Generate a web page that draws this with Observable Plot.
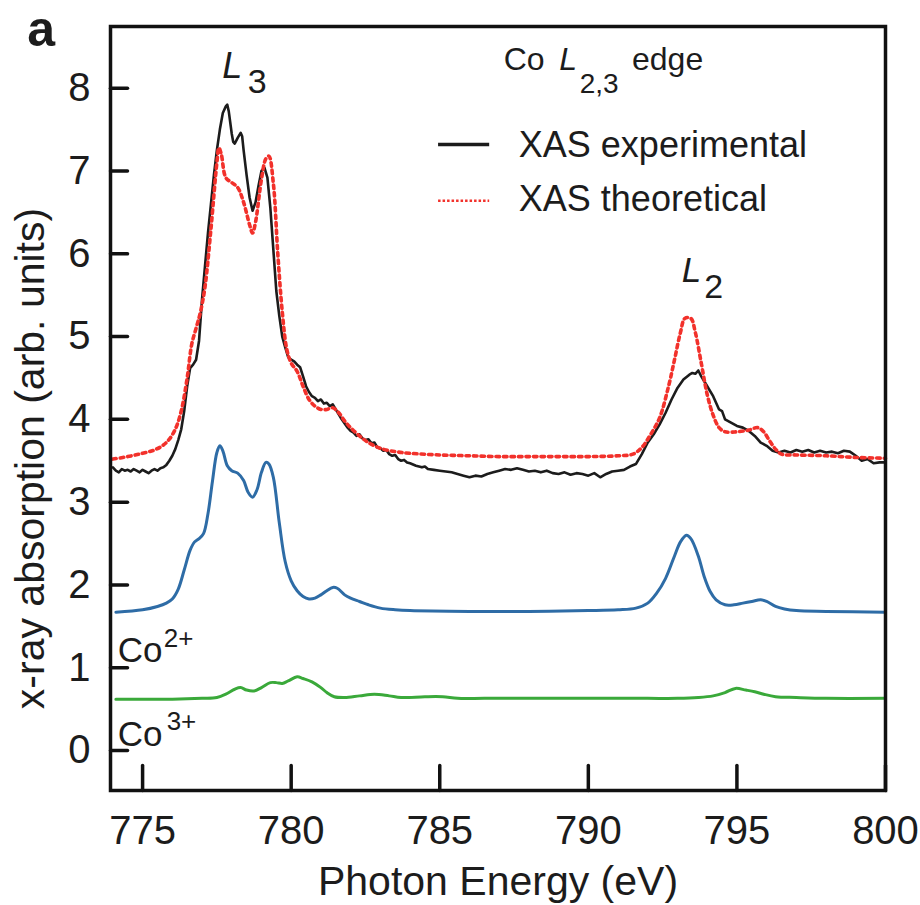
<!DOCTYPE html>
<html>
<head>
<meta charset="utf-8">
<script src="https://cdn.jsdelivr.net/npm/d3@7"></script>
<script src="https://cdn.jsdelivr.net/npm/@observablehq/plot@0.6"></script>
<style>
  html, body { margin: 0; padding: 0; background: #fff; }
</style>
</head>
<body>
<div id="chart"></div>
<script>
// ---- data ----
const xTicks = [775, 780, 785, 790, 795, 800];
const yTicks = [0, 1, 2, 3, 4, 5, 6, 7, 8];

const experimental = [
  [774.0,3.42],[774.1,3.38],[774.2,3.36],[774.3,3.40],[774.4,3.38],[774.5,3.39],[774.6,3.37],[774.7,3.40],
  [774.8,3.38],[774.9,3.36],[775.0,3.39],[775.1,3.37],[775.2,3.35],[775.3,3.38],[775.4,3.40],[775.5,3.38],
  [775.6,3.41],[775.7,3.42],[775.8,3.45],[775.9,3.50],[776.0,3.56],[776.1,3.64],[776.2,3.75],[776.3,3.88],
  [776.4,4.10],[776.5,4.40],[776.6,4.62],[776.7,4.66],[776.8,4.72],[776.9,4.95],[777.0,5.45],[777.1,5.85],
  [777.2,6.25],[777.3,6.60],[777.4,6.95],[777.5,7.25],[777.6,7.50],[777.7,7.70],[777.8,7.78],[777.85,7.80],
  [777.9,7.72],[778.0,7.45],[778.05,7.35],[778.1,7.33],[778.2,7.40],[778.3,7.46],[778.35,7.42],[778.4,7.25],
  [778.5,6.95],[778.6,6.68],[778.7,6.52],[778.8,6.62],[778.9,6.82],[779.0,7.00],[779.1,7.04],[779.2,6.92],
  [779.3,6.55],[779.4,6.05],[779.5,5.55],[779.6,5.25],[779.7,5.00],[779.8,4.87],[779.9,4.75],[780.0,4.72],
  [780.1,4.70],[780.2,4.66],[780.3,4.63],[780.4,4.52],[780.5,4.40],[780.6,4.33],[780.7,4.28],[780.8,4.26],
  [780.9,4.22],[781.0,4.24],[781.1,4.19],[781.2,4.20],[781.3,4.16],[781.4,4.18],[781.5,4.12],[781.6,4.06],
  [781.7,4.00],[781.8,3.95],[781.9,3.90],[782.0,3.86],[782.1,3.84],[782.2,3.80],[782.3,3.82],[782.4,3.77],
  [782.5,3.75],[782.6,3.76],[782.7,3.71],[782.8,3.72],[782.9,3.66],[783.0,3.65],[783.1,3.62],[783.2,3.63],
  [783.3,3.58],[783.4,3.56],[783.5,3.57],[783.6,3.52],[783.7,3.50],[783.8,3.51],[783.9,3.48],[784.0,3.47],
  [784.2,3.44],[784.4,3.42],[784.5,3.43],[784.6,3.40],[784.8,3.39],[785.0,3.38],[785.2,3.37],[785.4,3.36],
  [785.6,3.34],[785.8,3.32],[786.0,3.30],[786.2,3.32],[786.4,3.31],[786.6,3.34],[786.8,3.36],[787.0,3.38],
  [787.2,3.40],[787.4,3.39],[787.6,3.41],[787.8,3.39],[788.0,3.37],[788.2,3.38],[788.4,3.36],[788.6,3.38],
  [788.8,3.35],[789.0,3.34],[789.2,3.36],[789.4,3.33],[789.6,3.35],[789.8,3.34],[790.0,3.32],[790.2,3.35],
  [790.4,3.30],[790.6,3.34],[790.8,3.37],[791.0,3.38],[791.2,3.39],[791.4,3.43],[791.6,3.46],[791.8,3.58],
  [792.0,3.72],[792.2,3.82],[792.4,3.94],[792.6,4.08],[792.8,4.24],[793.0,4.38],[793.2,4.48],[793.4,4.54],
  [793.5,4.56],[793.6,4.55],[793.7,4.59],[793.8,4.52],[793.9,4.46],[794.0,4.40],[794.2,4.28],[794.4,4.12],
  [794.5,4.10],[794.6,4.00],[794.8,3.96],[795.0,3.92],[795.2,3.90],[795.4,3.86],[795.6,3.80],[795.8,3.72],
  [796.0,3.68],[796.2,3.62],[796.4,3.60],[796.6,3.62],[796.8,3.60],[797.0,3.63],[797.2,3.61],[797.4,3.63],
  [797.6,3.60],[797.8,3.62],[798.0,3.60],[798.2,3.61],[798.4,3.59],[798.6,3.62],[798.8,3.61],[799.0,3.56],
  [799.2,3.50],[799.4,3.52],[799.6,3.47],[799.8,3.48],[800.0,3.48]
];

const theoretical = [
  [774.0,3.52],[774.5,3.55],[775.0,3.59],[775.4,3.63],[775.7,3.69],[775.9,3.76],[776.1,3.88],[776.3,4.10],
  [776.5,4.50],[776.65,4.90],[776.8,5.10],[776.95,5.30],[777.1,5.60],[777.3,6.30],[777.5,7.10],[777.57,7.28],
  [777.65,7.20],[777.8,6.92],[778.0,6.86],[778.2,6.80],[778.4,6.62],[778.6,6.35],[778.7,6.25],[778.8,6.38],
  [779.0,6.90],[779.15,7.15],[779.25,7.18],[779.4,6.85],[779.55,6.00],[779.7,5.30],[779.85,4.85],[780.0,4.68],
  [780.2,4.58],[780.4,4.40],[780.6,4.24],[780.8,4.16],[781.0,4.12],[781.2,4.12],[781.4,4.14],[781.6,4.08],
  [781.8,3.98],[782.0,3.90],[782.3,3.80],[782.6,3.72],[783.0,3.65],[783.5,3.61],[784.0,3.59],[785.0,3.57],
  [786.0,3.56],[787.0,3.55],[788.0,3.55],[789.0,3.55],[790.0,3.55],[791.0,3.56],[791.5,3.58],[791.8,3.66],
  [792.1,3.82],[792.4,4.02],[792.7,4.40],[792.9,4.72],[793.1,5.05],[793.25,5.22],[793.45,5.22],[793.6,5.05],
  [793.8,4.68],[794.0,4.30],[794.2,4.05],[794.4,3.90],[794.6,3.85],[795.0,3.85],[795.4,3.87],[795.7,3.90],
  [795.9,3.85],[796.1,3.74],[796.3,3.64],[796.5,3.58],[797.0,3.57],[798.0,3.56],[799.0,3.54],[800.0,3.53]
];

const co2 = [
  [774.1,1.67],[775.0,1.70],[775.5,1.74],[775.8,1.78],[776.0,1.83],[776.2,1.95],[776.4,2.18],[776.6,2.42],
  [776.75,2.52],[776.9,2.56],[777.05,2.62],[777.2,2.86],[777.35,3.25],[777.5,3.60],[777.6,3.68],[777.7,3.62],
  [777.85,3.44],[778.0,3.38],[778.2,3.35],[778.4,3.26],[778.55,3.12],[778.7,3.06],[778.85,3.15],[779.0,3.36],
  [779.15,3.48],[779.25,3.46],[779.4,3.30],[779.6,2.75],[779.8,2.28],[780.0,2.05],[780.2,1.93],[780.4,1.86],
  [780.6,1.83],[780.8,1.84],[781.0,1.88],[781.2,1.93],[781.4,1.97],[781.55,1.96],[781.8,1.88],[782.0,1.84],
  [782.3,1.80],[782.6,1.76],[783.0,1.72],[783.5,1.70],[784.0,1.69],[786.0,1.68],[788.0,1.68],[790.0,1.69],
  [791.0,1.70],[791.6,1.72],[792.0,1.78],[792.3,1.90],[792.6,2.08],[792.9,2.35],[793.1,2.52],[793.3,2.60],
  [793.45,2.56],[793.7,2.35],[793.9,2.10],[794.1,1.92],[794.3,1.82],[794.6,1.76],[794.9,1.76],[795.2,1.78],
  [795.5,1.80],[795.8,1.82],[796.0,1.80],[796.3,1.74],[796.6,1.71],[797.0,1.69],[798.0,1.68],[800.0,1.67]
];

const co3 = [
  [774.1,0.62],[775.0,0.62],[776.0,0.62],[777.0,0.63],[777.5,0.64],[777.8,0.68],[778.1,0.74],[778.3,0.76],
  [778.5,0.73],[778.75,0.72],[779.0,0.76],[779.3,0.82],[779.5,0.82],[779.7,0.81],[779.9,0.84],[780.2,0.89],
  [780.4,0.87],[780.7,0.83],[781.0,0.76],[781.2,0.70],[781.45,0.65],[781.8,0.64],[782.3,0.66],[782.8,0.68],
  [783.3,0.66],[783.7,0.64],[784.5,0.65],[785.1,0.65],[785.6,0.63],[786.5,0.63],[788.0,0.63],[790.0,0.63],
  [792.0,0.63],[793.0,0.63],[793.7,0.64],[794.2,0.66],[794.6,0.70],[794.95,0.75],[795.3,0.73],[795.6,0.71],
  [795.9,0.68],[796.3,0.65],[797.0,0.64],[798.0,0.63],[800.0,0.63]
];

const legendLabels = ["XAS experimental", "XAS theoretical"];
const xLabel = "Photon Energy (eV)";
const yLabel = "x-ray absorption (arb. units)";

// ---- chart ----
const ink = "#1c1c1c";
const red = "#f2312b";
const tickShape = { draw(context, l) { context.moveTo(0, 0); context.lineTo(0, -l); } };
const font = "'Liberation Sans', Arial, Helvetica, sans-serif";

function label(txt, x, y, opts = {}) {
  return Plot.text([txt], { x, y, text: d => d, textAnchor: "start", lineAnchor: "middle",
    fill: ink, fontSize: 36, ...opts });
}

const chart = Plot.plot({
  width: 920,
  height: 905,
  marginLeft: 110,
  marginRight: 35,
  marginTop: 26,
  marginBottom: 115,
  x: { domain: [773.92, 800] },
  y: { domain: [-0.483, 8.745] },
  style: { fontFamily: font, color: ink, background: "#fff", overflow: "visible" },
  marks: [
    Plot.line(co3, { x: d => d[0], y: d => d[1], stroke: "#3aa93a", strokeWidth: 3, curve: "catmull-rom" }),
    Plot.line(co2, { x: d => d[0], y: d => d[1], stroke: "#2e6ca6", strokeWidth: 3, curve: "catmull-rom" }),
    Plot.line(experimental, { x: d => d[0], y: d => d[1], stroke: ink, strokeWidth: 2.6, strokeLinejoin: "round" }),
    Plot.line(theoretical, { x: d => d[0], y: d => d[1], stroke: red, strokeWidth: 3.6,
      strokeDasharray: "3.5,4", curve: "catmull-rom" }),

    // frame and inward ticks
    Plot.frame({ stroke: "#111", strokeWidth: 3.5 }),
    Plot.vector(xTicks, { x: d => d, frameAnchor: "bottom", length: 25, rotate: 0, anchor: "start",
      shape: tickShape, stroke: "#111", strokeWidth: 3.5 }),
    Plot.vector(yTicks, { y: d => d, frameAnchor: "left", length: 17, rotate: 90, anchor: "start",
      shape: tickShape, stroke: "#111", strokeWidth: 3.5 }),
    Plot.axisX(xTicks, { tickSize: 0, tickPadding: 25, fontSize: 40, label: null, tickFormat: d => String(d) }),
    Plot.axisY(yTicks, { tickSize: 0, tickPadding: 20, fontSize: 40, label: null, tickFormat: d => String(d) }),

    // axis titles
    Plot.text([xLabel], { frameAnchor: "bottom", dy: 91, text: d => d, textAnchor: "middle", lineAnchor: "middle", fontSize: 41, fill: ink }),
    Plot.text([yLabel], { frameAnchor: "left", dx: -80, dy: 50, rotate: -90, text: d => d, textAnchor: "middle", lineAnchor: "middle", fontSize: 41, fill: ink }),

    // panel letter
    label("a", 771.12, 8.708, { fontSize: 50, fontWeight: "bold" }),

    // legend
    Plot.ruleY([7.32], { x1: 784.96, x2: 786.68, stroke: ink, strokeWidth: 3.5 }),
    Plot.ruleY([6.64], { x1: 784.96, x2: 786.68, stroke: red, strokeWidth: 2.5, strokeDasharray: "2.5,2" }),
    label(legendLabels[0], 787.66, 7.31),
    label(legendLabels[1], 787.66, 6.65),
    label("Co", 787.15, 8.34, { fontSize: 32 }),
    label("L", 789.02, 8.34, { fontSize: 32, fontStyle: "italic" }),
    label("2,3", 789.71, 8.05, { fontSize: 28 }),
    label("edge", 791.47, 8.34, { fontSize: 32 }),

    // peak labels
    label("L", 777.68, 8.26, { fontStyle: "italic" }),
    label("3", 778.54, 8.07, { fontSize: 34 }),
    label("L", 793.14, 5.80, { fontSize: 35, fontStyle: "italic" }),
    label("2", 793.9, 5.60, { fontSize: 34 }),

    // valence labels
    label("Co", 774.16, 1.20, { fontSize: 35 }),
    label("2+", 775.71, 1.35, { fontSize: 26 }),
    label("Co", 774.16, 0.19, { fontSize: 35 }),
    label("3+", 775.81, 0.35, { fontSize: 26 })
  ]
});

document.getElementById("chart").appendChild(chart);
</script>
</body>
</html>
